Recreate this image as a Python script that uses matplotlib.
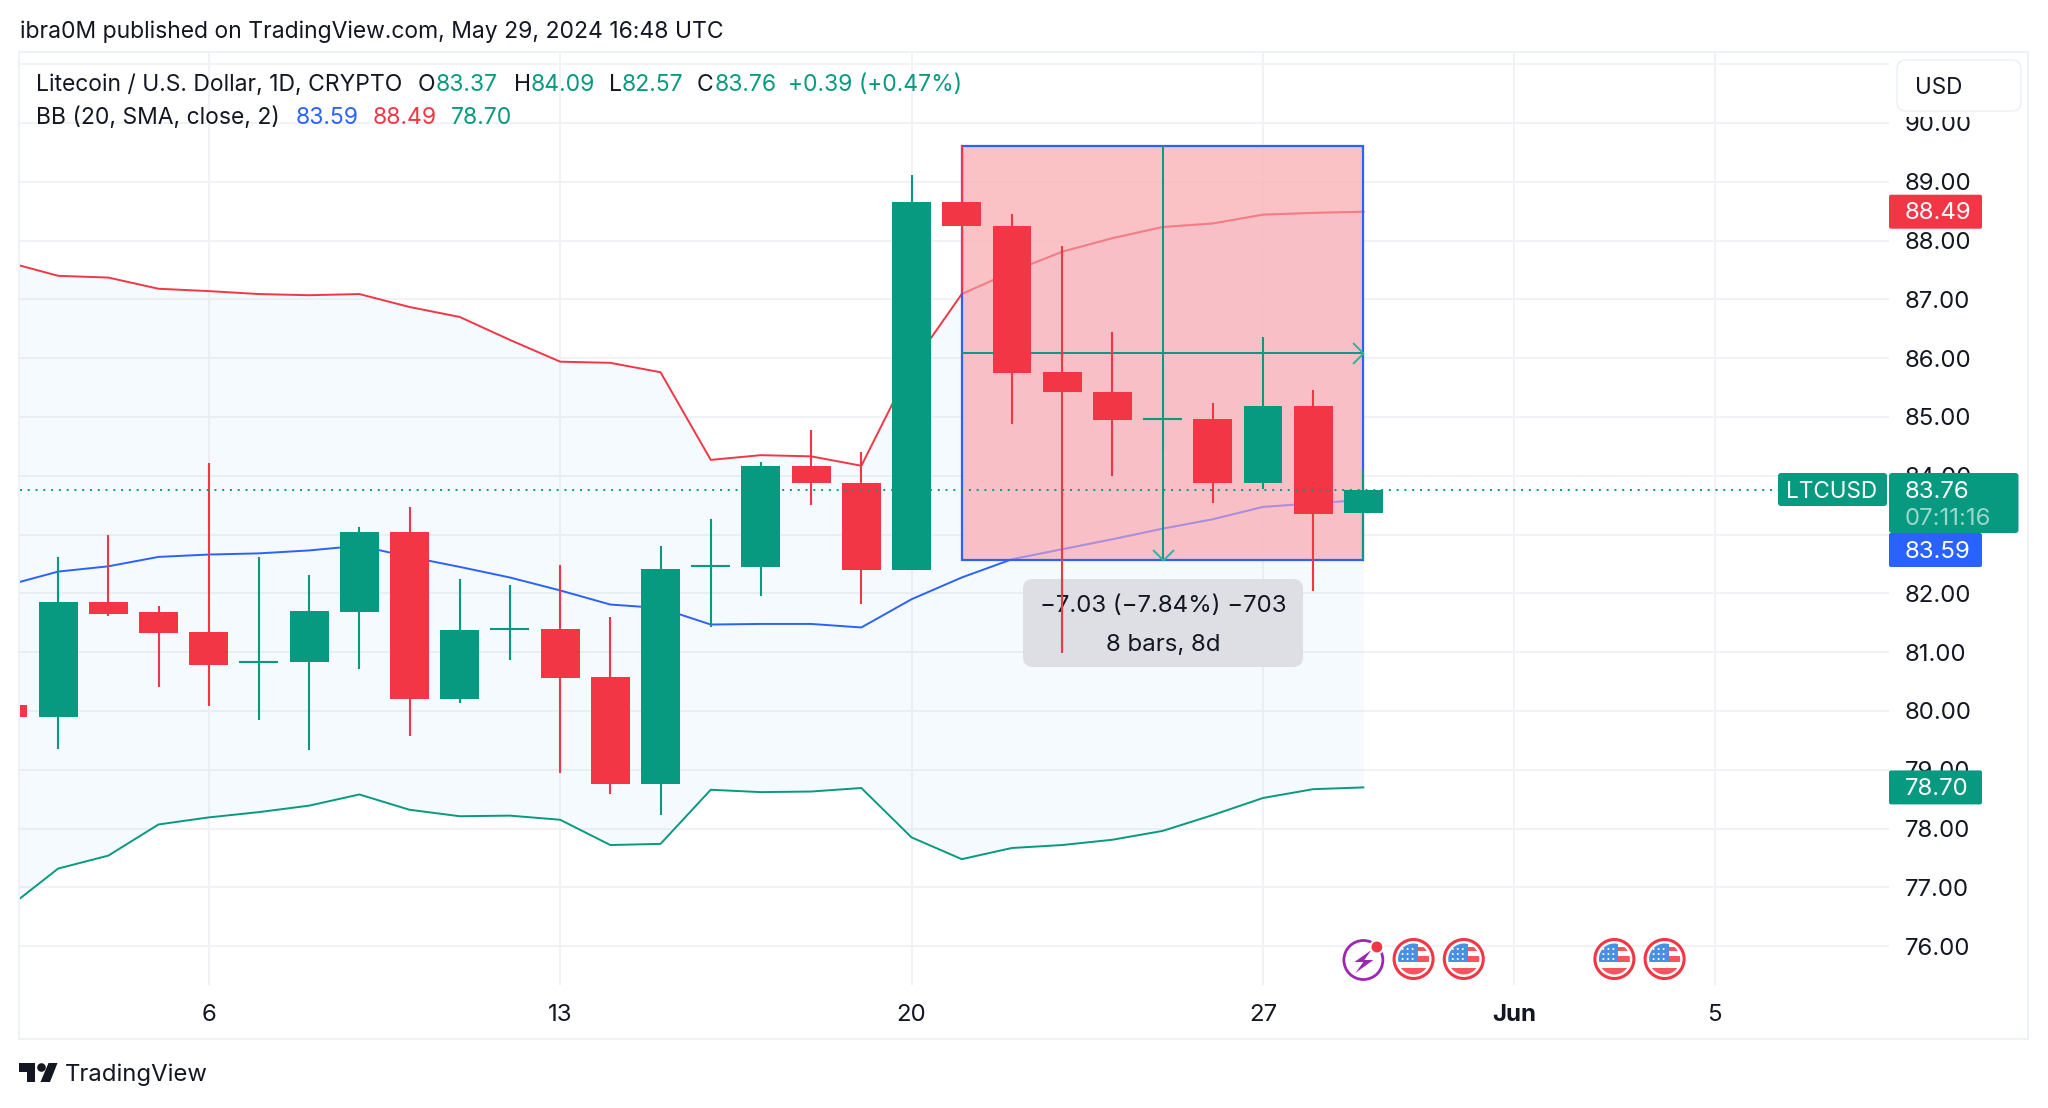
import matplotlib
matplotlib.use('Agg')
import matplotlib.pyplot as plt
from matplotlib.patches import Rectangle, FancyBboxPatch, Circle, Polygon
from matplotlib.path import Path
from matplotlib.transforms import Affine2D

plt.rcParams['font.family'] = ['Inter', 'DejaVu Sans']

# daily candles, May 2024 (day of month)
days = list(range(2, 30))
opens = [80.10, 79.90, 81.86, 81.68, 81.34, 80.84, 80.83, 81.69, 83.04, 80.20,
         81.39, 81.40, 80.58, 78.76, 82.46, 82.45, 84.16, 83.88, 82.40, 88.65,
         88.25, 85.76, 85.43, 84.97, 84.96, 83.88, 85.18, 83.37]
highs = [80.10, 82.61, 83.00, 81.79, 84.21, 82.61, 82.31, 83.12, 83.47, 82.24,
         82.14, 82.49, 81.60, 82.80, 83.26, 84.23, 84.78, 84.40, 89.11, 89.60,
         88.45, 87.91, 86.44, 85.95, 85.23, 86.36, 85.46, 84.09]
lows = [79.90, 79.35, 81.62, 80.41, 80.08, 79.85, 79.34, 80.71, 79.57, 80.14,
        80.86, 78.95, 78.58, 78.23, 81.42, 81.95, 83.50, 81.82, 82.40, 87.10,
        84.88, 80.99, 83.99, 84.43, 83.54, 83.77, 82.04, 82.57]
closes = [79.90, 81.86, 81.65, 81.33, 80.79, 80.84, 81.70, 83.04, 80.20, 81.37,
          81.39, 80.56, 78.76, 82.42, 82.46, 84.16, 83.87, 82.40, 88.65, 88.25,
          85.75, 85.42, 84.94, 84.97, 83.88, 85.18, 83.35, 83.76]

# bollinger bands
bb_upper = [87.63, 87.40, 87.37, 87.18, 87.14, 87.09, 87.07, 87.09, 86.87, 86.70,
            86.31, 85.94, 85.92, 85.76, 84.27, 84.35, 84.33, 84.17, 85.87, 87.09,
            87.47, 87.81, 88.04, 88.23, 88.29, 88.44, 88.47, 88.49]
bb_basis = [82.14, 82.37, 82.46, 82.62, 82.66, 82.68, 82.73, 82.81, 82.62, 82.45,
            82.27, 82.05, 81.81, 81.75, 81.47, 81.48, 81.48, 81.42, 81.90, 82.27,
            82.58, 82.75, 82.92, 83.10, 83.26, 83.47, 83.53, 83.59]
bb_lower = [76.65, 77.32, 77.54, 78.07, 78.19, 78.28, 78.39, 78.58, 78.32, 78.21,
            78.22, 78.15, 77.72, 77.74, 78.66, 78.62, 78.63, 78.69, 77.85, 77.48,
            77.67, 77.72, 77.81, 77.96, 78.23, 78.52, 78.67, 78.70]

price_ticks = list(range(76, 92))
price_labels = [f'{p}.00' if p < 91 else '' for p in price_ticks]
date_ticks = [6, 13, 20, 27, 32, 36]
date_labels = ['6', '13', '20', '27', 'Jun', '5']

measure_days = [21, 29]
measure_prices = [89.60, 82.57]
last_price = 83.76
event_days = [30, 31, 34, 35]

GREEN = '#089981'
RED = '#F23645'
BLUE = '#2962FF'
INK = '#131722'
GRID = '#F1F2F5'
FRAME = '#EEF1F6'
AXIS_FS = 17.3
LEG_FS = 16.5

W, H = 2048, 1108
fig = plt.figure(figsize=(W / 100, H / 100), dpi=100, facecolor='white')

# pane runs 20..1889 x, 52..985 y in pixels
ax = fig.add_axes([20 / W, 1 - 985 / H, (1889 - 20) / W, (985 - 52) / H])
ax.set_xlim(2.241, 39.47)
ax.set_ylim(75.34, 91.206)
for s in ax.spines.values():
    s.set_visible(False)

ax.set_axisbelow(True)
ax.grid(True, color=GRID, lw=1.4)
ax.yaxis.tick_right()
ax.set_yticks(price_ticks, price_labels)
ax.set_xticks(date_ticks, date_labels)
ax.tick_params(axis='y', length=0, pad=11.5, labelsize=AXIS_FS, labelcolor=INK)
ax.tick_params(axis='x', length=0, pad=14, labelsize=AXIS_FS, labelcolor=INK)
ax.get_xticklabels()[4].set_fontweight('bold')

px = Affine2D().scale(1, -1).translate(0, H)


def price_y(v):
    return H - ax.transData.transform((0, v))[1]


# bands
ax.fill_between(days, bb_upper, bb_lower, color='#2196F3', alpha=0.045, lw=0, zorder=1)
ax.plot(days, bb_upper, color=RED, lw=1.4, zorder=1.5)
ax.plot(days, bb_basis, color=BLUE, lw=1.4, zorder=1.5)
ax.plot(days, bb_lower, color=GREEN, lw=1.4, zorder=1.5)

# measure tool
d0, d1 = measure_days
p_top, p_bot = measure_prices
dmid = (d0 + d1) / 2
pmid = (p_top + p_bot) / 2
# white wash first, the band tint hardly shows through the tool
ax.add_patch(Rectangle((d0, p_bot), d1 - d0, p_top - p_bot, fc='white', alpha=0.8, lw=0, zorder=1.9))
ax.add_patch(Rectangle((d0, p_bot), d1 - d0, p_top - p_bot, fc=RED, alpha=0.3, lw=0, zorder=2))
ax.add_patch(Rectangle((d0, p_bot), d1 - d0, p_top - p_bot, fc='none', ec=BLUE, lw=1.6, zorder=2.1))
# band lines look washed out under the tool
ax.plot(days[19:], bb_upper[19:], color='#F47C86', lw=1.4, zorder=2.05)
ax.plot(days[20:], bb_basis[20:], color='#AB8EDD', lw=1.4, zorder=2.05)
ax.plot([d0, d1], [pmid, pmid], color=GREEN, lw=1.4, zorder=2.2)
ax.plot([dmid, dmid], [p_top, p_bot], color=GREEN, lw=1.4, zorder=2.2)
chevron_r = Path([(-1, 1), (0, 0), (-1, -1)])
chevron_d = Path([(-1, 1), (0, 0), (1, 1)])
ax.plot([d1], [pmid], marker=chevron_r, ms=15, mfc='none', mec='#2BB39B', mew=1.4, zorder=2.3)
ax.plot([dmid], [p_bot], marker=chevron_d, ms=15, mfc='none', mec='#2BB39B', mew=1.4, zorder=2.3)

# tooltip
ax.add_patch(FancyBboxPatch((1029, 585), 268, 76, boxstyle='round,pad=6,rounding_size=10',
                            fc='#DDDFE4', ec='none', transform=px, zorder=2.4, clip_on=False))
ax.text(1163, 606, '\u22127.03 (\u22127.84%) \u2212703', transform=px, ha='center', va='center',
        fontsize=AXIS_FS, color=INK, zorder=2.5)
ax.text(1163, 645, '8 bars, 8d', transform=px, ha='center', va='center',
        fontsize=AXIS_FS, color=INK, zorder=2.5)

# candles
colors = [GREEN if c >= o else RED for o, c in zip(opens, closes)]
ax.vlines(days, lows, highs, colors=colors, lw=1.5, zorder=3)
ax.bar(days, [abs(c - o) for o, c in zip(opens, closes)], bottom=[min(o, c) for o, c in zip(opens, closes)],
       width=0.775, color=colors, lw=0, zorder=3.1)
for d, o, c, col in zip(days, opens, closes, colors):
    if o == c:
        ax.hlines(o, d - 0.3875, d + 0.3875, colors=col, lw=1.5, zorder=3.1)

# last price line runs up to the symbol tag
ax.plot([2.241, 37.26], [last_price, last_price], color=GREEN, lw=1.4, ls=(0, (1, 3)), zorder=3.3)


def badge(yc, color, text):
    ax.add_patch(FancyBboxPatch((1889, yc - 17), 93, 34, boxstyle='round,pad=0,rounding_size=2',
                                fc=color, lw=0, transform=px, zorder=5, clip_on=False))
    ax.text(1905, yc + 1.5, text, transform=px, va='center', ha='left', fontsize=AXIS_FS, color='white', zorder=6)


badge(price_y(bb_upper[-1]), RED, '88.49')
badge(550, BLUE, '83.59')  # pushed down by the last price badge
badge(price_y(bb_lower[-1]), GREEN, '78.70')

# last price badge with countdown and symbol tag
ax.add_patch(FancyBboxPatch((1889, 473), 129.5, 60, boxstyle='round,pad=0,rounding_size=3',
                            fc=GREEN, lw=0, transform=px, zorder=5.5, clip_on=False))
ax.text(1905, 491.5, '83.76', transform=px, va='center', fontsize=AXIS_FS, color='white', zorder=6)
ax.text(1905, 519, '07:11:16', transform=px, va='center', fontsize=AXIS_FS, color='#9CD6CC', zorder=6)
ax.add_patch(FancyBboxPatch((1778, 473), 109, 33, boxstyle='round,pad=0,rounding_size=3',
                            fc=GREEN, lw=0, transform=px, zorder=5.5, clip_on=False))
ax.text(1832, 491.5, 'LTCUSD', transform=px, ha='center', va='center', fontsize=16.2, color='white', zorder=6)

# USD button, its white margin crops the 90.00 label
ax.add_patch(Rectangle((1889, 53), 138, 64, fc='white', lw=0, transform=px, zorder=4.9, clip_on=False))
ax.add_patch(FancyBboxPatch((1897, 60), 124, 51, boxstyle='round,pad=0,rounding_size=9',
                            fc='white', ec=FRAME, lw=1.2, transform=px, zorder=5, clip_on=False))
ax.text(1915, 87.5, 'USD', transform=px, va='center', fontsize=16.2, color=INK, zorder=6)

# outer frame
fig.add_artist(Rectangle((19, 52), 2009, 987, fc='none', ec=FRAME, lw=1.4, transform=px))

# header and legend text
fig.text(20, 32, 'ibra0M published on TradingView.com, May 29, 2024 16:48 UTC', transform=px,
         va='center', fontsize=LEG_FS, color=INK)


def legend_text(x, y, s, color=INK):
    fig.text(x, y, s, transform=px, va='center', fontsize=LEG_FS, color=color)


legend_text(36, 85, 'Litecoin / U.S. Dollar, 1D, CRYPTO')
legend_text(418, 85, 'O')
legend_text(436, 85, '83.37', GREEN)
legend_text(514, 85, 'H')
legend_text(531, 85, '84.09', GREEN)
legend_text(609, 85, 'L')
legend_text(622, 85, '82.57', GREEN)
legend_text(697, 85, 'C')
legend_text(715, 85, '83.76', GREEN)
legend_text(788, 85, '+0.39 (+0.47%)', GREEN)
legend_text(36, 118, 'BB (20, SMA, close, 2)')
legend_text(296, 118, '83.59', BLUE)
legend_text(373, 118, '88.49', RED)
legend_text(451, 118, '78.70', GREEN)

# tradingview logo
fig.add_artist(Polygon([(19, 1063), (35, 1063), (35, 1082), (27, 1082), (27, 1072), (19, 1072)],
                       fc=INK, lw=0, transform=px))
fig.add_artist(Circle((41.5, 1067.5), 4.3, fc=INK, lw=0, transform=px))
fig.add_artist(Polygon([(48.5, 1063), (57.5, 1063), (50, 1082), (40.5, 1082)], fc=INK, lw=0, transform=px))
fig.text(65, 1075, 'TradingView', transform=px, va='center', fontsize=17.2, color=INK)

# event icons sit on the time scale, so x comes from the axes
icon_y = 959


def flag(d):
    cx = ax.transData.transform((d, 80))[0]
    clip = Circle((cx, icon_y), 15.5, transform=px)
    ax.add_patch(Circle((cx, icon_y), 19.5, fc='white', ec='#F23645', lw=2.2, transform=px, zorder=4))
    parts = [
        Rectangle((cx - 16, icon_y - 16), 20, 19, fc='#4A90E2', lw=0),
        Rectangle((cx + 4, icon_y - 12), 13, 4, fc='#F4555F', lw=0),
        Rectangle((cx + 4, icon_y - 3), 13, 6, fc='#F4555F', lw=0),
        Rectangle((cx - 16, icon_y + 9), 32, 8, fc='#F4555F', lw=0),
    ]
    for p in parts:
        p.set_transform(px)
        p.set_zorder(4.1)
        ax.add_patch(p)
        p.set_clip_path(clip)
    for sx in (-11, -6, -1):
        for sy in (-10, -5, 0):
            ax.add_patch(Circle((cx + sx, icon_y + sy), 1, fc='white', lw=0, transform=px, zorder=4.2))


for d in event_days:
    flag(d)

# bolt icon on the last bar
cx = ax.transData.transform((29, 80))[0]
ax.add_patch(Circle((cx, 960), 19.5, fc='white', ec='#9C27B0', lw=2, transform=px, zorder=4))
bolt = [(8, -10), (-9, 2), (0, 2), (-8, 13), (10, 0), (1, 0)]
ax.add_patch(Polygon([(cx + a, 960 + b) for a, b in bolt], fc='#9C27B0', lw=0, transform=px, zorder=4.1))
ax.add_patch(Circle((cx + 13.5, 947), 6.5, fc='#F23645', ec='white', lw=1.5, transform=px, zorder=4.2))

fig.savefig('out.png', dpi=100, facecolor='white')
